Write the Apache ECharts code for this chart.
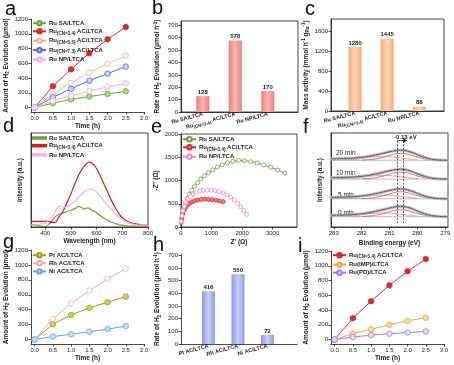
<!DOCTYPE html>
<html><head><meta charset="utf-8">
<script src="https://cdn.jsdelivr.net/npm/echarts@6/dist/echarts.min.js"></script>
<style>html,body{margin:0;padding:0;background:#fff}#c{width:454px;height:365px}</style>
</head><body><div id="c"></div>
<script>
// ---------- data ----------
const TIME = [0, 0.5, 1, 1.5, 2, 2.5];
const TIME_TICKS = [0, 0.5, 1, 1.5, 2, 2.5, 3];
const H2_TICKS = [0, 200, 400, 600, 800, 1000, 1200];

const A_SA = [0, 60, 110, 150, 185, 220];
const A_CN34 = [0, 290, 520, 735, 925, 1090];
const A_CN55 = [0, 180, 335, 475, 595, 705];
const A_CN73 = [0, 140, 255, 365, 460, 555];
const A_NP = [0, 90, 160, 225, 280, 330];
const A_LEGEND = ['Ru SA/LTCA', 'Ru{s|(CN=3.4)} AC/LTCA', 'Ru{s|(CN=5.5)} AC/LTCA', 'Ru{s|(CN=7.3)} AC/LTCA', 'Ru NP/LTCA'];

const B_CATS = ['Ru SA/LTCA', 'Ru{s|(CN=3.4)} AC/LTCA', 'Ru NP/LTCA'];
const B_VALS = [128, 578, 170];
const B_TICKS = [0, 100, 200, 300, 400, 500, 600, 700];

const C_VALS = [1280, 1445, 88];
const C_TICKS = [0, 400, 800, 1200, 1600];

const D_WL = [345,360,380,400,415,430,440,450,460,470,480,490,500,510,520,530,540,550,560,570,580,590,600,610,620,630,640,650,660,670,680,690,700,720,740,760,780,800];
const D_SA = [3,2,1,0.5,3,8,11,13,14,15,16,17,18,19,20,22,21,19,20,20,18,17,15,13,11,9,8,6,5,4,3,2,2,1,1,1,1,1];
const D_CN34 = [6,6,6,6,6,5,5,9,13,17,23,29,35,42,49,55,60,64,67,69,68,66,62,57,51,45,39,33,27,22,17,13,10,6,4,3,2,2];
const D_NP = [2,2,3,4,7,12,17,21,22,21,21,22,24,26,29,32,34,37,39,40,40,39,37,34,31,27,24,21,18,15,12,10,8,5,3,2,2,2];
const D_TICKS = [400, 500, 600, 700, 800];
const D_LEGEND = ['Ru SA/LTCA', 'Ru{s|(CN=3.4)} AC/LTCA', 'Ru NP/LTCA'];

const E_SA_X = [20,50,90,140,200,270,350,440,540,650,770,900,1040,1190,1350,1520,1700,1890,2080,2280,2490,2710,2940,3170,3400];
const E_SA_Y = [150,280,400,510,610,700,790,870,950,1030,1100,1170,1230,1290,1340,1380,1410,1430,1425,1405,1375,1335,1285,1225,1160];
const E_CN_X = [10,30,60,100,150,210,280,360,450,550,660,780,900,1020,1140,1260,1380];
const E_CN_Y = [100,200,290,360,420,470,510,540,565,582,592,596,594,588,575,560,545];
const E_NP_X = [10,30,60,100,160,230,310,400,500,610,730,860,990,1120,1250,1380,1510,1630,1750,1860,1960,2060,2150];
const E_NP_Y = [120,240,350,440,530,600,660,710,745,770,785,790,788,778,760,730,690,640,580,510,430,350,270];
const E_XTICKS = [0, 1000, 2000, 3000];
const E_YTICKS = [0, 500, 1000, 1500, 2000];

const F_BE = [283.1,283.0,282.9,282.8,282.7,282.6,282.5,282.4,282.3,282.2,282.1,282.0,281.9,281.8,281.7,281.6,281.5,281.4,281.3,281.2,281.1,281.0,280.9,280.8,280.7,280.6,280.5,280.4,280.3,280.2,280.1,280.0,279.9,279.8,279.7,279.6,279.5,279.4,279.3,279.2,279.1,279.0,278.9];
const F_0MIN = [1.5,1.5,1.6,1.6,1.7,1.8,1.9,2.0,2.2,2.4,2.7,3.0,3.4,3.9,4.4,5.0,5.6,6.3,7.0,7.7,8.4,9.1,9.8,10.4,10.8,11.0,10.8,10.3,9.5,8.5,7.3,6.0,4.8,3.7,2.7,1.9,1.2,0.7,0.4,0.2,0.1,0.05,0];
const F_5MIN = [1.6,1.5,1.6,1.7,1.7,1.8,2.0,2.1,2.2,2.5,2.7,3.0,3.4,3.8,4.3,4.9,5.5,6.1,6.8,7.5,8.2,8.9,9.5,10.1,10.5,10.6,10.4,9.9,9.1,8.1,7.0,5.8,4.6,3.6,2.6,1.8,1.2,0.7,0.4,0.2,0.1,0.05,0];
const F_10MIN = [1.4,1.5,1.5,1.6,1.7,1.8,1.9,2.0,2.2,2.4,2.6,2.9,3.3,3.7,4.2,4.8,5.4,6.0,6.7,7.4,8.1,8.8,9.4,9.9,10.3,10.5,10.3,9.8,9.0,8.0,6.9,5.7,4.6,3.5,2.6,1.8,1.1,0.7,0.4,0.2,0.1,0.05,0];
const F_20MIN = [1.5,1.6,1.6,1.7,1.8,1.9,2.0,2.1,2.3,2.5,2.8,3.1,3.5,3.9,4.4,5.0,5.6,6.2,6.9,7.6,8.3,9.0,9.6,10.1,10.5,10.7,10.6,10.1,9.3,8.3,7.2,6.0,4.8,3.7,2.7,1.9,1.2,0.7,0.4,0.2,0.1,0.05,0];
const F_TRACES = [F_0MIN, F_5MIN, F_10MIN, F_20MIN];
const F_OFFSETS = [11, 30, 51, 71];
const F_LABELS = ['0 min', '5 min', '10 min', '20 min'];
const F_C1_BE = [282.0,281.8,281.6,281.4,281.2,281.0,280.8,280.6,280.4,280.2,280.0,279.8,279.6,279.4,279.2];
const F_C1 = [0.2,0.5,1.0,2.0,3.4,5.2,6.8,7.4,6.8,5.2,3.4,2.0,1.0,0.5,0.2];
const F_C2_BE = [283.0,282.8,282.6,282.4,282.2,282.0,281.8,281.6,281.4,281.2,281.0,280.8,280.6,280.4,280.2,280.0];
const F_C2 = [0.4,0.6,0.9,1.3,1.8,2.4,3.0,3.5,3.8,3.9,3.7,3.2,2.5,1.7,1.0,0.5];
const F_C3_BE = [283.1,282.9,282.7,282.5,282.3,282.1];
const F_C3 = [1.3,1.0,0.8,0.6,0.4,0.2];
const F_PEAKS = [280.72, 280.50];
const F_SHIFT = '-0.13 eV';
const F_TICKS = [283, 282, 281, 280, 279];

const G_PT = [0, 205, 330, 425, 500, 575];
const G_RH = [0, 275, 485, 655, 815, 950];
const G_NI = [0, 40, 70, 105, 140, 180];
const G_LEGEND = ['Pt AC/LTCA', 'Rh AC/LTCA', 'Ni AC/LTCA'];

const H_CATS = ['Pt AC/LTCA', 'Rh AC/LTCA', 'Ni AC/LTCA'];
const H_VALS = [416, 550, 72];

const I_CN34 = [0, 290, 520, 735, 925, 1090];
const I_IMP = [0, 80, 140, 200, 255, 295];
const I_PD = [0, 35, 60, 80, 95, 110];
const I_LEGEND = ['Ru{s|(CN=3.4)} AC/LTCA', 'Ru(IMP)/LTCA', 'Ru(PD)/LTCA'];

// ---------- helpers ----------
const FONT = '"Liberation Sans", Arial, sans-serif';
const INK = '#1a1a1a';
const pair = (xs, ys) => xs.map((x, i) => [x, ys[i]]);
const RICH = {
  s: {fontSize: 4.5, verticalAlign: 'bottom', lineHeight: 9, fontWeight: 'bold', fontFamily: FONT, color: INK},
  p: {fontSize: 4.5, verticalAlign: 'top', lineHeight: 9, fontWeight: 'bold', fontFamily: FONT, color: INK}
};
const grids = [], xAxes = [], yAxes = [], series = [], legends = [], graphics = [];

function addGrid(l, t, w, h, frame) {
  grids.push({left: l, top: t, width: w, height: h, show: !!frame, borderColor: INK, borderWidth: 0.8, backgroundColor: 'transparent'});
  return grids.length - 1;
}
function axis(gi, o) {
  return {
    type: 'value', gridIndex: gi, min: o.min, max: o.max, inverse: !!o.inverse,
    axisLine: {show: true, onZero: false, lineStyle: {color: INK, width: 0.8}},
    axisTick: {show: !!o.ticks, length: 2.5, customValues: o.ticks, lineStyle: {color: INK, width: 0.8}},
    axisLabel: {show: !!(o.ticks || o.labels), customValues: o.labels || o.ticks, fontSize: o.fs || 6, color: INK, fontFamily: FONT,
      margin: o.margin || 3, formatter: o.fmt || (v => String(v)), rotate: o.rotate || 0, fontWeight: o.bold ? 'bold' : 'normal', rich: RICH},
    splitLine: {show: false},
    name: o.name, nameLocation: 'middle', nameGap: o.gap || 10,
    nameTextStyle: {fontSize: 6.5, fontWeight: 'bold', color: INK, fontFamily: FONT, rich: RICH, lineHeight: 9}
  };
}
function line(id, gi, xs, ys, color, fill, o) {
  o = o || {};
  series.push({
    type: 'line', name: id, xAxisIndex: gi, yAxisIndex: gi, data: pair(xs, ys),
    symbol: o.symbol === undefined ? 'circle' : o.symbol, symbolSize: o.size || 5.5, showSymbol: o.symbol !== 'none',
    smooth: o.smooth || false,
    lineStyle: {color: color, width: o.width === undefined ? 1 : o.width}, itemStyle: {color: fill, borderColor: color, borderWidth: 0.8},
    z: o.z || 3, silent: true
  });
}
function bars(id, gi, vals, stops) {
  series.push({
    type: 'bar', name: id, xAxisIndex: gi, yAxisIndex: gi, barWidth: 13,
    data: vals.map((v, i) => [i + 1, v]),
    itemStyle: {color: new echarts.graphic.LinearGradient(0, 0, 1, 0, stops.map((c, k) => ({offset: k / (stops.length - 1), color: c})))},
    label: {show: true, position: 'top', distance: 1, fontSize: 6, fontWeight: 'bold', color: INK, fontFamily: FONT, formatter: p => String(p.value[1])}
  });
}
function legend(names, texts, left, top, lineOnly) {
  const map = {}; names.forEach((n, i) => map[n] = texts[i]);
  legends.push({data: names.map(n => lineOnly ? {name: n, icon: 'rect'} : n), left: left, top: top, orient: 'vertical',
    itemWidth: 13, itemHeight: lineOnly ? 1.5 : 5.5, itemGap: 1.7,
    padding: 0, selectedMode: false, formatter: n => map[n],
    textStyle: {fontSize: 6, fontWeight: 'bold', color: INK, fontFamily: FONT, rich: RICH, padding: [0, 0, 0, -2]}});
}
function letter(t, x, y) {
  graphics.push({type: 'text', left: x, top: y, style: {text: t, font: '20px ' + FONT, fill: '#111'}});
}
const tfmt = v => v.toFixed(1);
const H2NAME = 'Amount of H{s|2} Evolution (μmol)';
const RATENAME = 'Rate of H{s|2} Evolution (μmol h{p|-1})';

// ---------- panel a ----------
let g = addGrid(31, 19, 113, 93, false);
xAxes.push(axis(g, {min: -0.1, max: 3.0, ticks: TIME_TICKS, fmt: tfmt, name: 'Time (h)', gap: 9}));
yAxes.push(axis(g, {min: -60, max: 1200, ticks: H2_TICKS, name: H2NAME, gap: 17}));
line('a0', g, TIME, A_SA, '#6aa436', '#a8d878');
line('a1', g, TIME, A_CN34, '#e3262c', '#e3262c');
line('a2', g, TIME, A_CN55, '#f5b98c', '#fff3ea');
line('a3', g, TIME, A_CN73, '#4a6be6', '#c5d2fb');
line('a4', g, TIME, A_NP, '#f5aede', '#fdeaf6');
legend(['a0', 'a1', 'a2', 'a3', 'a4'], A_LEGEND, 32, 20);

// ---------- panel b ----------
g = addGrid(181, 21, 117, 91, true);
xAxes.push(axis(g, {min: 0.33, max: 3.93, labels: [1, 2, 3], fmt: v => B_CATS[v - 1], rotate: 15, bold: true, fs: 5.5, margin: 2}));
yAxes.push(axis(g, {min: 0, max: 735, ticks: B_TICKS, name: RATENAME, gap: 19}));
bars('b', g, B_VALS, ['#ef7c7d', '#f9b7b7', '#ef7c7d']);

// ---------- panel c ----------
g = addGrid(331, 19, 113, 92, true);
xAxes.push(axis(g, {min: 0.25, max: 3.77, labels: [1, 2, 3], fmt: v => B_CATS[v - 1], rotate: 15, bold: true, fs: 5.5, margin: 2}));
yAxes.push(axis(g, {min: 0, max: 1840, ticks: C_TICKS, name: 'Mass activity (mmol h{p|-1} g{s|Ru}{p|-1})', gap: 19}));
bars('c', g, C_VALS, ['#f3ab7b', '#fcd6b8', '#f3ab7b']);

// ---------- panel d ----------
g = addGrid(31, 133, 117, 94, true);
xAxes.push(axis(g, {min: 345, max: 800, ticks: D_TICKS, name: 'Wavelength (nm)', gap: 8}));
yAxes.push(axis(g, {min: 0, max: 100, name: 'Intensity (a.u.)', gap: 6}));
line('d0', g, D_WL, D_SA, '#6aa436', '#6aa436', {symbol: 'none', width: 1.2, smooth: 0.3});
line('d1', g, D_WL, D_CN34, '#e01a1a', '#e01a1a', {symbol: 'none', width: 1.2, smooth: 0.3});
line('d2', g, D_WL, D_NP, '#f6b3dc', '#f6b3dc', {symbol: 'none', width: 1.2, smooth: 0.3});
legend(['d0', 'd1', 'd2'], D_LEGEND, 32, 135, true);

// ---------- panel e ----------
g = addGrid(181, 134, 116, 93, true);
xAxes.push(axis(g, {min: 0, max: 3800, ticks: E_XTICKS, name: "Z' (Ω)", gap: 11}));
yAxes.push(axis(g, {min: 0, max: 2000, ticks: E_YTICKS, name: "-Z'' (Ω)", gap: 13}));
line('e0', g, E_SA_X, E_SA_Y, '#6aa436', '#ffffff', {size: 4});
line('e1', g, E_CN_X, E_CN_Y, '#e3262c', '#f08080', {size: 4});
line('e2', g, E_NP_X, E_NP_Y, '#f08ccc', '#ffffff', {size: 4});
legend(['e0', 'e1', 'e2'], D_LEGEND, 182, 136);

// ---------- panel f ----------
g = addGrid(331, 133, 117, 94, true);
xAxes.push(axis(g, {min: 278.9, max: 283.1, inverse: true, ticks: F_TICKS, name: 'Binding energy (eV)', gap: 12}));
yAxes.push(axis(g, {min: 0, max: 100, name: 'Intensity (a.u.)', gap: 6}));
F_TRACES.forEach((tr, k) => {
  const off = F_OFFSETS[k];
  line('fb' + k, g, [F_BE[0], F_BE[F_BE.length - 1]], [off, off], '#b9a7a7', '#b9a7a7', {symbol: 'none', width: 0.8, z: 2});
  line('fc3' + k, g, F_C3_BE, F_C3.map(v => v + off), '#f2a07a', '#f2a07a', {symbol: 'none', width: 0.8, smooth: true, z: 2});
  line('fc2' + k, g, F_C2_BE, F_C2.map(v => v + off), '#e88a8a', '#e88a8a', {symbol: 'none', width: 0.8, smooth: true, z: 2});
  line('fc1' + k, g, F_C1_BE, F_C1.map(v => v + off), '#e04848', '#e04848', {symbol: 'none', width: 0.8, smooth: true, z: 2});
  line('fd' + k, g, F_BE, tr.map(v => v + off), '#9a9a9a', '#ffffff', {size: 2.5, width: 0, z: 3});
  line('fe' + k, g, F_BE, tr.map(v => v + off), '#222', '#222', {symbol: 'none', width: 0.7, smooth: true, z: 4});
});
series.push({type: 'line', xAxisIndex: g, yAxisIndex: g, data: [], silent: true,
  markLine: {symbol: 'none', silent: true, label: {show: false}, lineStyle: {type: [2, 1.5], color: '#111', width: 0.7},
    data: F_PEAKS.map(p => [{coord: [p, 4]}, {coord: [p, 92]}])}});
series.push({type: 'line', xAxisIndex: g, yAxisIndex: g, data: [], silent: true,
  markLine: {symbol: ['none', 'arrow'], symbolSize: 4, silent: true, lineStyle: {type: 'solid', color: '#111', width: 0.7},
    label: {show: false}, data: [[{coord: [F_PEAKS[0], 92]}, {coord: [F_PEAKS[1] - 0.12, 92]}]]}});
graphics.push({type: 'text', left: 394, top: 134.5, style: {text: F_SHIFT, font: 'bold 6px ' + FONT, fill: INK}});
const F_LABEL_POS = [[338, 210], [338, 192], [336, 170], [336, 150]];
F_LABELS.forEach((t, k) => graphics.push({type: 'text', left: F_LABEL_POS[k][0], top: F_LABEL_POS[k][1], style: {text: t, font: '6.5px ' + FONT, fill: INK}}));

// ---------- panel g ----------
g = addGrid(31, 250, 113, 94, false);
xAxes.push(axis(g, {min: -0.1, max: 3.0, ticks: TIME_TICKS, fmt: tfmt, name: 'Time (h)', gap: 10}));
yAxes.push(axis(g, {min: -60, max: 1200, ticks: H2_TICKS, name: H2NAME, gap: 16}));
line('g0', g, TIME, G_PT, '#a09a18', '#d8cf55');
line('g1', g, TIME, G_RH, '#f4a9a5', '#ffffff');
line('g2', g, TIME, G_NI, '#62a4e6', '#c6def8');
legend(['g0', 'g1', 'g2'], G_LEGEND, 32, 252);

// ---------- panel h ----------
g = addGrid(181, 254, 116, 90, false);
xAxes.push(axis(g, {min: 0.07, max: 4.0, labels: [1, 2, 3], fmt: v => H_CATS[v - 1], rotate: 15, bold: true, fs: 5.5, margin: 2}));
yAxes.push(axis(g, {min: 0, max: 710, ticks: B_TICKS, name: RATENAME, gap: 19}));
bars('h', g, H_VALS, ['#8e98ef', '#c9cefa', '#8e98ef']);

// ---------- panel i ----------
g = addGrid(331, 251, 113, 93, false);
xAxes.push(axis(g, {min: -0.1, max: 3.0, ticks: TIME_TICKS, fmt: tfmt, name: 'Time (h)', gap: 10}));
yAxes.push(axis(g, {min: -60, max: 1200, ticks: H2_TICKS, name: H2NAME, gap: 19}));
line('i0', g, TIME, I_CN34, '#e3262c', '#e3262c');
line('i1', g, TIME, I_IMP, '#e8a83a', '#f8dc9a');
line('i2', g, TIME, I_PD, '#a678ec', '#e6d8fb');
legend(['i0', 'i1', 'i2'], I_LEGEND, 332, 252);

// ---------- letters ----------
[['a', 5, -1], ['b', 152, -2], ['c', 305, -1], ['d', 3, 116], ['e', 151, 117], ['f', 303, 117], ['g', 3, 232], ['h', 153, 235], ['i', 298, 236]]
  .forEach(l => letter(l[0], l[1], l[2]));

const chart = echarts.init(document.getElementById('c'), null, {renderer: 'canvas'});
chart.setOption({
  animation: false, backgroundColor: '#fff',
  textStyle: {fontFamily: FONT},
  grid: grids, xAxis: xAxes, yAxis: yAxes, series: series, legend: legends, graphic: graphics
});
</script></body></html>
